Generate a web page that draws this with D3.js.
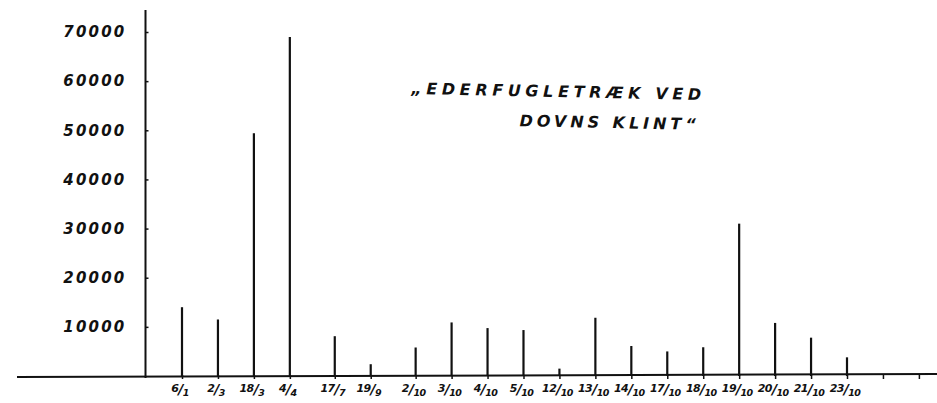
<!DOCTYPE html>
<html>
<head>
<meta charset="UTF-8">
<title>Ederfugletræk ved Dovns Klint</title>
<script src="https://cdn.jsdelivr.net/npm/d3@7/dist/d3.min.js"></script>
<style>
body { margin: 0; background: #fff; }
text { font-family: "DejaVu Sans", sans-serif; font-weight: bold; font-style: italic; fill: #111; }
</style>
</head>
<body>
<script>
// dates (day/month) and counted eiders
var days   = ["6", "2", "18", "4", "17", "19", "2", "3", "4", "5", "12", "13", "14", "17", "18", "19", "20", "21", "23"];
var months = ["1", "3", "3", "4", "7", "9", "10", "10", "10", "10", "10", "10", "10", "10", "10", "10", "10", "10", "10"];
var counts = [14000, 11500, 49400, 69000, 8100, 2400, 5800, 10900, 9750, 9350, 1500, 11850, 6100, 5000, 5850, 31000, 10800, 7800, 3800];
// dates after which the drawing leaves a bit of extra room
var breaks = ["4/4", "19/9"];
var yTicks = [10000, 20000, 30000, 40000, 50000, 60000, 70000];
var titleLines = ["\u201eEDERFUGLETRÆK VED", "DOVNS KLINT\u201c"];

var W = 937, H = 403;
var baseY = 376;

var svg = d3.select("body").append("svg")
    .attr("width", W)
    .attr("height", H);

// slot number per date, a quarter slot extra after each break
var slots = [];
var extra = 0;
days.forEach(function(d, i){
    slots.push(i + extra);
    if(breaks.indexOf(d + "/" + months[i]) >= 0) extra += 0.25;
});

var x = d3.scaleLinear()
    .domain([0, slots[slots.length - 1]])
    .range([182, 847]);

var y = d3.scaleLinear()
    .domain([0, 70000])
    .range([baseY, 32]);

// axis lines
svg.append("line")
    .attr("x1", 17).attr("x2", W)
    .attr("y1", baseY + 1).attr("y2", baseY - 2)
    .attr("stroke", "#111").attr("stroke-width", 2);
svg.append("line")
    .attr("x1", 145.5).attr("x2", 145.5)
    .attr("y1", 10).attr("y2", baseY + 2)
    .attr("stroke", "#111").attr("stroke-width", 2);

// y axis ticks + labels
var yAxis = svg.append("g")
    .attr("transform", "translate(145.5,0)")
    .call(d3.axisLeft(y)
        .tickValues(yTicks)
        .tickSizeInner(-3)
        .tickSizeOuter(0)
        .tickPadding(19)
        .tickFormat(d3.format("d")));
yAxis.select(".domain").remove();
yAxis.selectAll(".tick line").attr("stroke", "#111").attr("stroke-width", 1.5);
yAxis.selectAll(".tick text")
    .attr("font-size", 15)
    .attr("letter-spacing", 2.2)
    .attr("fill", "#111")
    .style("font-family", "DejaVu Sans")
    .style("font-weight", "bold")
    .style("font-style", "italic");

// x axis ticks (two blank ones after the last date)
var tickSlots = slots.concat([slots[slots.length - 1] + 1, slots[slots.length - 1] + 2]);
var xAxis = svg.append("g")
    .attr("transform", "translate(0," + (baseY - 1) + ")")
    .call(d3.axisBottom(x).tickValues(tickSlots).tickSize(4).tickFormat(""));
xAxis.select(".domain").remove();
xAxis.selectAll(".tick line").attr("stroke", "#111").attr("stroke-width", 1.5);

// date labels as slanted fractions
var lab = svg.append("g").selectAll("text")
    .data(slots)
    .enter()
    .append("text")
    .attr("x", function(s){ return x(s) - 2; })
    .attr("y", 395)
    .attr("text-anchor", "middle")
    .attr("letter-spacing", -0.6)
    .attr("font-size", 11);
lab.append("tspan").attr("dy", -3).text(function(s, i){ return days[i]; });
lab.append("tspan").attr("dy", 2).attr("font-size", 14).text("/");
lab.append("tspan").attr("dy", 2).attr("font-size", 9.5).text(function(s, i){ return months[i]; });

// the counts as thin spikes
svg.append("g").selectAll("line")
    .data(counts)
    .enter()
    .append("line")
    .attr("x1", function(d, i){ return x(slots[i]); })
    .attr("x2", function(d, i){ return x(slots[i]); })
    .attr("y1", y(0))
    .attr("y2", function(d){ return y(d); })
    .attr("stroke", "#111")
    .attr("stroke-width", 2.2);

// title
var title = svg.append("g").attr("transform", "rotate(1.2, 560, 105)");
title.append("text")
    .attr("x", 411).attr("y", 97)
    .attr("font-size", 16)
    .attr("textLength", 290)
    .attr("lengthAdjust", "spacing")
    .text(titleLines[0]);
title.append("text")
    .attr("x", 520).attr("y", 127)
    .attr("font-size", 16)
    .attr("textLength", 176)
    .attr("lengthAdjust", "spacing")
    .text(titleLines[1]);
</script>
</body>
</html>
